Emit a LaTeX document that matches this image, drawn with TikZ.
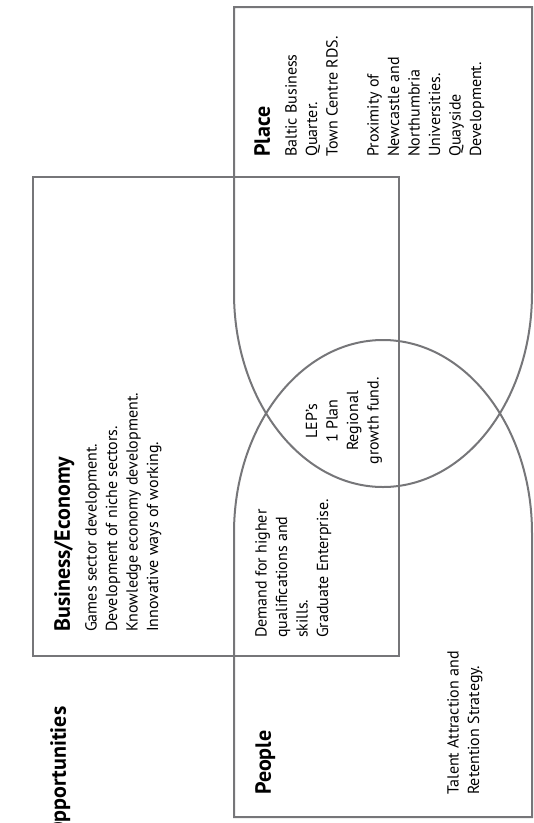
\documentclass[tikz,border=0pt]{standalone}
\usepackage{fontspec}
\setmainfont{PT Sans}
\definecolor{linegray}{RGB}{118,118,121}
\begin{document}
\begin{tikzpicture}[x=1pt,y=-1pt,
  frame/.style={draw=linegray, line width=2pt},
  ttl/.style={font=\fontsize{22}{26}\selectfont\bfseries, rotate=90, anchor=north west, inner sep=0pt},
  body/.style={font=\fontsize{16}{20.5}\selectfont, rotate=90, anchor=north west, inner sep=0pt, align=left}]
\useasboundingbox (0,0) rectangle (534,823);
\clip (0,0) rectangle (534,823);
% Place region
\draw[frame] (234,293) -- (234,7) -- (532,7) -- (532,293)
  arc[start angle=0, end angle=180, x radius=149, y radius=194] -- cycle;
% People region
\draw[frame] (532,533) -- (532,817) -- (234,817) -- (234,533)
  arc[start angle=180, end angle=360, x radius=149, y radius=193] -- cycle;
% Business box
\draw[frame] (33,177) rectangle (399,656);
% texts
\node[ttl] (opp) at (50,837) {Opportunities};
\node[ttl] (bizt) at (54,632) {Business/Economy};
\node[body] (bizb) at (85,632) {Games sector development.\\Development of niche sectors.\\Knowledge economy development.\\Innovative ways of working.};
\node[ttl] (plt) at (254,157) {Place};
\node[body] (plb) at (285,157) {Baltic Business\\Quarter.\\Town Centre RDS.\\[20.5pt]Proximity of\\Newcastle and\\Northumbria\\Universities.\\Quayside\\Development.};
\node[body, align=center, anchor=center] (lep) at (344,421) {LEP’s\\1 Plan\\Regional\\growth fund.};
\node[ttl] (ppt) at (255,795) {People};
\node[body] (dem) at (255,638) {Demand for higher\\qualifications and\\skills.\\Graduate Enterprise.};
\node[body] (tal) at (447,795) {Talent Attraction and\\Retention Strategy.};
\end{tikzpicture}
\end{document}
